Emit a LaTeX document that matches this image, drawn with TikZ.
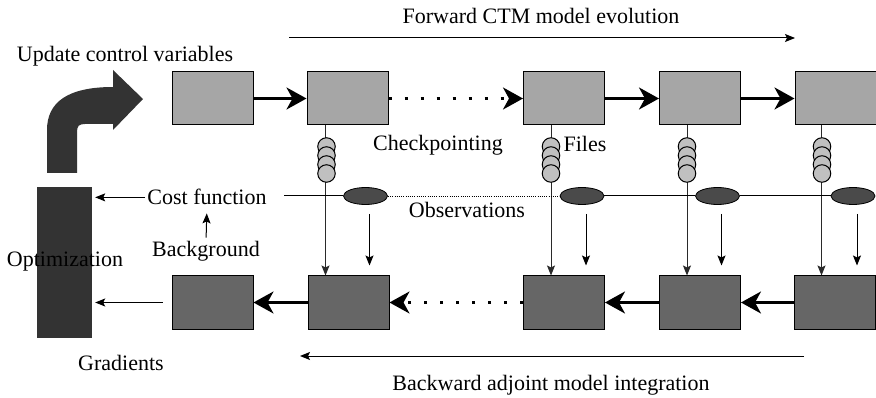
\documentclass[tikz,border=0pt]{standalone}
\usepackage{fontspec}
\setmainfont{Liberation Serif}
\usetikzlibrary{arrows.meta,shapes.geometric}
\definecolor{topfill}{HTML}{A6A6A6}
\definecolor{botfill}{HTML}{666666}
\definecolor{ellfill}{HTML}{4A4A4A}
\definecolor{optfill}{HTML}{333333}
\definecolor{filefill}{HTML}{C0C0C0}
\definecolor{linegray}{HTML}{2A2A2A}
\begin{document}
\begin{tikzpicture}[x=1pt,y=-1pt,
  lbl/.style={font=\fontsize{22}{24}\selectfont, inner sep=0pt, anchor=base},
  boxbase/.style={draw=black, line width=1pt, minimum width=81pt, minimum height=53pt, inner sep=0pt},
  topbox/.style={boxbase, fill=topfill},
  botbox/.style={boxbase, fill=botfill},
  bigarrow/.style={line width=2.6pt, -{Stealth[length=20pt,width=22pt,inset=6pt]}},
  dotarrow/.style={bigarrow, dash pattern=on 3pt off 13pt},
  thinarrow/.style={line width=1pt, -{Stealth[length=10pt,width=8pt,inset=2pt]}},
  colline/.style={draw=linegray, line width=1pt, -{Stealth[length=10pt,width=8pt,inset=2pt]}},
  filenode/.style={circle, draw=black, line width=1pt, fill=filefill, minimum size=17.5pt, inner sep=0pt},
  obsnode/.style={ellipse, draw=black, line width=0.8pt, fill=ellfill, minimum width=44pt, minimum height=17pt, inner sep=0pt},
  obsline/.style={draw=black, line width=1pt}
]
\useasboundingbox (0,0) rectangle (876,398);

% bent arrow and optimization block
\fill[optfill] (47,173) -- (47,130) .. controls (47,102) and (68,87) .. (113,87)
  -- (113,70) -- (143,99) -- (113,130) -- (113,124) -- (85,124)
  .. controls (79,124) and (77,126) .. (77,132) -- (77,173) -- cycle;
\node[fill=optfill, minimum width=55pt, minimum height=151pt, inner sep=0pt] (opt) at (64.5,262.5) {};

% top boxes
\node[topbox] (t1) at (212.5,98.5) {};
\node[topbox] (t2) at (347.5,98.5) {};
\node[topbox] (t3) at (564,98.5) {};
\node[topbox] (t4) at (700,98.5) {};
\node[topbox] (t5) at (835.5,98.5) {};
% bottom boxes
\node[botbox] (b1) at (212.5,302.5) {};
\node[botbox] (b2) at (348.5,302.5) {};
\node[botbox] (b3) at (564,302.5) {};
\node[botbox] (b4) at (700,302.5) {};
\node[botbox] (b5) at (835,302.5) {};

% forward / backward chains
\draw[bigarrow] (t1.east) -- (t2.west);
\draw[dotarrow] (t2.east) -- (t3.west);
\draw[bigarrow] (t3.east) -- (t4.west);
\draw[bigarrow] (t4.east) -- (t5.west);
\draw[bigarrow] (b2.west) -- (b1.east);
\draw[dotarrow] (b3.west) -- (b2.east);
\draw[bigarrow] (b4.west) -- (b3.east);
\draw[bigarrow] (b5.west) -- (b4.east);

% checkpoint columns
\draw[colline] ([xshift=19pt]t2.south west) -- ([xshift=19pt]t2.south west |- b2.north);
\draw[colline] ([xshift=28pt]t3.south west) -- ([xshift=28pt]t3.south west |- b3.north);
\draw[colline] ([xshift=28pt]t4.south west) -- ([xshift=28pt]t4.south west |- b4.north);
\draw[colline] ([xshift=27pt]t5.south west) -- ([xshift=27pt]t5.south west |- b5.north);
\foreach \n/\cx in {2/326.5,3/551,4/687,5/822}{
  \node[filenode] (f\n a) at (\cx,146.5) {};
  \node[filenode] (f\n b) at (\cx,155.5) {};
  \node[filenode] (f\n c) at (\cx,164.5) {};
  \node[filenode] (f\n d) at (\cx,173.5) {};
}

% observations
\node[obsnode] (e1) at (365.5,196) {};
\node[obsnode] (e2) at (582,196) {};
\node[obsnode] (e3) at (717.5,196) {};
\node[obsnode] (e4) at (853,196) {};
\coordinate (obsstart) at (284,196);
\draw[obsline] (obsstart) -- (e1.west);
\draw[obsline, line width=0.8pt, dash pattern=on 1pt off 1.2pt] (e1.east) -- (e2.west);
\draw[obsline] (e2.east) -- (e3.west);
\draw[obsline] (e3.east) -- (e4.west);
\foreach \e/\b in {e1/b2,e2/b3,e3/b4,e4/b5}{
  \draw[thinarrow, shorten <=9pt, shorten >=10pt] ([xshift=4pt]\e.south) -- ([xshift=4pt]\e.south |- \b.north);
}

% labels
\node[lbl] (fwd) at (541,23.5) {Forward CTM model evolution};
\node[lbl] (ucv) at (125,62) {Update control variables};
\node[lbl] (chk) at (438,151) {Checkpointing};
\node[lbl] (files) at (585,152) {Files};
\node[lbl] (cf) at (207,205) {Cost function};
\node[lbl] (obs) at (467,218) {Observations};
\node[lbl] (bg) at (206,257) {Background};
\node[lbl] (optl) at (65,267) {Optimization};
\node[lbl] (grad) at (121,370) {Gradients};
\node[lbl] (bwd) at (551,390) {Backward adjoint model integration};

% long evolution arrows
\coordinate (fa) at (289,38);
\coordinate (fb) at (795,38);
\draw[thinarrow] (fa) -- (fb);
\coordinate (ba) at (804,356);
\coordinate (bb) at (300,356);
\draw[thinarrow] (ba) -- (bb);

% cost / background / gradients arrows
\draw[thinarrow, shorten <=2pt, shorten >=3pt] (cf.west) -- (cf.west -| opt.east);
\draw[thinarrow, shorten <=4pt, shorten >=8pt] (bg.north) -- (cf.south);
\draw[thinarrow, shorten <=9pt, shorten >=3pt] (b1.west) -- (b1.west -| opt.east);
\end{tikzpicture}
\end{document}
